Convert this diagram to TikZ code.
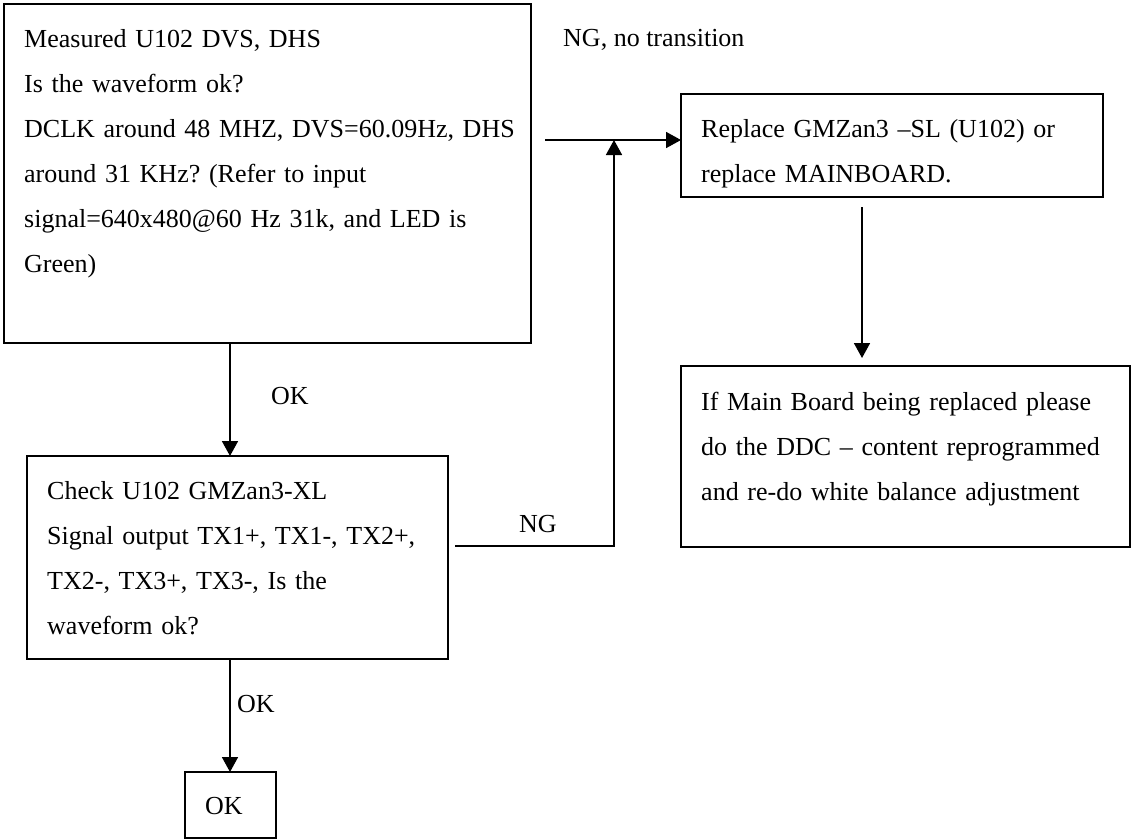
\documentclass[tikz,border=0pt]{standalone}
\usepackage{fontspec}
\setmainfont{Liberation Serif}
\usetikzlibrary{arrows.meta}
\frenchspacing
\begin{document}
\begin{tikzpicture}[x=1pt,y=-1pt,
  box/.style={draw, line width=1.7pt, inner sep=0pt, outer sep=0pt, rectangle},
  txt/.style={anchor=north west, inner sep=0pt, align=left, text width=600pt, font=\fontsize{26}{45}\selectfont},
  lbl/.style={anchor=base west, inner sep=0pt, font=\fontsize{26}{45}\selectfont},
  arr/.style={line width=1.7pt, -{Triangle[length=15pt,width=16pt]}}]
\useasboundingbox (0,0) rectangle (1134,839);

% boxes
\node[box, minimum width=527pt, minimum height=339pt] (A) at (267.5,173.5) {};
\node[box, minimum width=422pt, minimum height=103pt] (B) at (892,145.5) {};
\node[box, minimum width=449pt, minimum height=181pt] (C) at (905.5,456.5) {};
\node[box, minimum width=421pt, minimum height=203pt] (D) at (237.5,557.5) {};
\node[box, minimum width=91pt, minimum height=66pt] (E) at (230.5,805) {};

% box texts
\node[txt] (At) at (24,15.5) {\strut Measured U102 DVS, DHS\\
Is the waveform ok?\\
DCLK around 48 MHZ, DVS=60.09Hz, DHS\\
around 31 KHz? (Refer to input\\
signal=640x480@60 Hz 31k, and LED is\\
Green)};
\node[txt] (Bt) at (701,105.5) {\strut Replace GMZan3 –SL (U102) or\\
replace MAINBOARD.};
\node[txt] (Ct) at (701,378.5) {\strut If Main Board being replaced please\\
do the DDC – content reprogrammed\\
and re-do white balance adjustment};
\node[txt] (Dt) at (47,467.5) {\strut Check U102 GMZan3-XL\\
Signal output TX1+, TX1-, TX2+,\\
TX2-, TX3+, TX3-, Is the\\
waveform ok?};
\node[lbl] (Et) at (205,814) {OK};

% labels
\node[lbl] (ngtop) at (563,46) {NG, no transition};
\node[lbl] (ok1) at (271,404) {OK};
\node[lbl] (ng2) at (519,532) {NG};
\node[lbl] (ok2) at (237,712) {OK};

% connector coordinates
\coordinate (aout) at (545,140);
\coordinate (join) at (614,140);
\coordinate (dout) at (455,546);
\coordinate (bout) at (862,207);
\coordinate (cin) at (862,358);
\coordinate (xa) at (230,0);

% connectors
\draw[arr] (aout) -- (aout -| B.west);
\draw[arr] (dout) -| (join);
\draw[arr] (bout) -- (cin);
\draw[arr] (A.south -| xa) -- (D.north -| xa);
\draw[arr] (D.south -| xa) -- (E.north -| xa);
\end{tikzpicture}
\end{document}
